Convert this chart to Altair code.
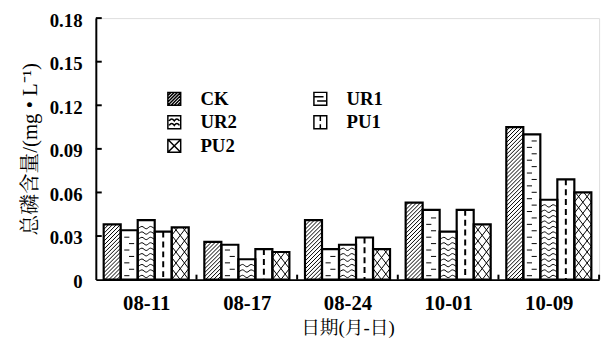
import altair as alt
import pandas as pd
import numpy as np

# ---------------- data ----------------
dates = ["08-11", "08-17", "08-24", "10-01", "10-09"]
series = ["CK", "UR1", "UR2", "PU1", "PU2"]
ck = [0.038, 0.026, 0.041, 0.053, 0.105]
ur1 = [0.034, 0.024, 0.021, 0.048, 0.100]
ur2 = [0.041, 0.014, 0.024, 0.033, 0.055]
pu1 = [0.033, 0.021, 0.029, 0.048, 0.069]
pu2 = [0.036, 0.019, 0.021, 0.038, 0.060]
y_ticks = [0, 0.03, 0.06, 0.09, 0.12, 0.15, 0.18]
values = {"CK": ck, "UR1": ur1, "UR2": ur2, "PU1": pu1, "PU2": pu2}
legend_order = ["CK", "UR2", "PU2", "UR1", "PU1"]  # column-major: CK UR1 / UR2 PU1 / PU2

# ---------------- layout ----------------
W, H = 510, 265
YMAX = 0.18
NG = len(dates)
START, BW = 0.078, 0.169
UX = W / NG        # px per x unit
UY = H / YMAX      # px per y unit
FONT = "Liberation Serif, Times New Roman, serif"
CJK = "Liberation Serif, Noto Serif CJK SC, Noto Sans CJK SC, serif"

bars = []
for i, d in enumerate(dates):
    for j, s in enumerate(series):
        x0 = i + START + j * BW
        bars.append({"date": d, "series": s, "x": x0, "x2": x0 + BW, "y": values[s][i], "y2": 0.0})
bars_df = pd.DataFrame(bars)

# pattern segments (computed from bar geometry)
segs, waves, dashes = [], [], []


def add_seg(b, X1, Y1, X2, Y2):
    segs.append({"x": b["x"] + X1 / UX, "x2": b["x"] + X2 / UX,
                 "y": Y1 / UY, "y2": Y2 / UY})


def family(b, w, h, a, c):
    # line Y = a*X + c clipped to [0,w]x[0,h]
    lo = max(0.0, min(-c / a, (h - c) / a))
    hi = min(w, max(-c / a, (h - c) / a))
    if hi - lo > 0.2:
        add_seg(b, lo, a * lo + c, hi, a * hi + c)


wid = 0
for b in bars:
    w = BW * UX
    h = b["y"] * UY
    s = b["series"]
    if s == "CK":
        sp = 4.0
        c = -w
        while c < h:
            family(b, w, h, 1.0, c)
            c += sp
    elif s == "PU2":
        a = 1.3
        p = a * w / 2
        k = -3
        while k * p < h + a * w + p:
            family(b, w, h, a, k * p)
            family(b, w, h, -a, k * p)
            k += 1
    elif s == "UR1":
        k = 0
        Y = 4.0
        while Y < h - 2:
            cx = 0.36 * w if k % 2 == 0 else 0.64 * w
            add_seg(b, cx - 2.6, Y, cx + 2.6, Y)
            Y += 6.5
            k += 1
    elif s == "UR2":
        Y = 2.0
        amp = 2.4
        while Y + amp < h - 1:
            pts = [(0, 0), (w / 4, amp), (w / 2, 0), (3 * w / 4, amp), (w, 0)]
            for n, (px, py) in enumerate(pts):
                waves.append({"id": wid, "o": n, "x": b["x"] + px / UX, "y": (Y + py) / UY})
            wid += 1
            Y += 5.5
    elif s == "PU1":
        dashes.append({"x": b["x"] + w / 2 / UX, "y": b["y"], "y2": 0.0})

segs_df = pd.DataFrame(segs)
waves_df = pd.DataFrame(waves)
dashes_df = pd.DataFrame(dashes)

ytick_df = pd.DataFrame({"y": y_ticks[1:], "x": 0.0, "x2": 6 / UX})
xtick_df = pd.DataFrame({"x": [float(k) for k in range(1, NG + 1)], "y": 0.0, "y2": 5 / UY})

xscale = alt.Scale(domain=[0, NG], nice=False, zero=False)
yscale = alt.Scale(domain=[0, YMAX], nice=False)
label_arr = "[" + ",".join("'%s'" % d for d in dates) + "]"
xaxis = alt.Axis(values=[k + 0.5 for k in range(NG)], labelExpr=label_arr + "[floor(datum.value)]",
                 ticks=False, grid=False, domainColor="black", domainWidth=2,
                 labelFont=FONT, labelFontWeight="bold", labelFontSize=21, labelColor="black",
                 labelPadding=13, title="日期(月-日)", titleFont=CJK, titleFontSize=19,
                 titleFontWeight="normal", titleColor="#000000", titlePadding=6)
yaxis = alt.Axis(values=y_ticks, labelExpr="datum.value == 0 ? '0' : format(datum.value, '.2f')",
                 ticks=False, grid=False, domainColor="black", domainWidth=2,
                 labelFont=FONT, labelFontWeight="bold", labelFontSize=19, labelColor="black",
                 labelPadding=14, labelOffset=2, title="总磷含量/(mg • L⁻¹)", titleFont=CJK,
                 titleFontSize=21, titleFontWeight="normal", titleColor="#000000", titlePadding=9)


def X(f="x"):
    return alt.X(f + ":Q", scale=xscale, axis=xaxis)


def Y(f="y"):
    return alt.Y(f + ":Q", scale=yscale, axis=yaxis)


fill_layer = alt.Chart(bars_df).mark_rect(fill="white").encode(x=X(), x2="x2", y=Y(), y2="y2")
seg_layer = alt.Chart(segs_df).mark_rule(color="black", strokeWidth=1).encode(x=X(), x2="x2", y=Y(), y2="y2")
wave_layer = alt.Chart(waves_df).mark_line(color="black", strokeWidth=1, interpolate="cardinal").encode(
    x=X(), y=Y(), detail="id:N", order="o:Q")
dash_layer = alt.Chart(dashes_df).mark_rule(color="black", strokeWidth=2, strokeDash=[6, 4]).encode(
    x=X(), y=Y(), y2="y2")
outline_layer = alt.Chart(bars_df).mark_rect(fillOpacity=0, stroke="black", strokeWidth=2.2).encode(
    x=X(), x2="x2", y=Y(), y2="y2")
ytick_layer = alt.Chart(ytick_df).mark_rule(color="black", strokeWidth=2).encode(x=X(), x2="x2", y=Y())
xtick_layer = alt.Chart(xtick_df).mark_rule(color="black", strokeWidth=2).encode(x=X(), y=Y(), y2="y2")

shape_paths = {
    "CK": "M-1,-1H1V1H-1Z M-1,-0.5L-0.5,-1 M-1,0L0,-1 M-1,0.5L0.5,-1 M-1,1L1,-1 M-0.5,1L1,-0.5 M0,1L1,0 M0.5,1L1,0.5",
    "UR1": "M-1,-1H1V1H-1Z M-1,-0.3H0.5 M-0.5,0.35H1",
    "UR2": "M-1,-1H1V1H-1Z M-0.8,-0.2Q-0.4,-0.8,0,-0.2Q0.4,-0.8,0.8,-0.2 M-0.8,0.5Q-0.4,-0.1,0,0.5Q0.4,-0.1,0.8,0.5",
    "PU1": "M-1,-1H1V1H-1Z M0,-1V-0.2 M0,0.3V1",
    "PU2": "M-1,-1H1V1H-1Z M-1,-1L1,1 M-1,1L1,-1",
}
leg_df = pd.DataFrame({"series": legend_order, "x": 0.5, "y": 0.0})
legend_layer = alt.Chart(leg_df).mark_point(opacity=0, filled=False).encode(
    x=X(), y=Y(),
    shape=alt.Shape("series:N", scale=alt.Scale(domain=legend_order,
                                                range=[shape_paths[s] for s in legend_order]),
                    legend=alt.Legend(title=None, orient="none", legendX=70, legendY=72, columns=2,
                                      symbolSize=169, symbolOpacity=1, symbolFillColor="white",
                                      symbolStrokeColor="black", symbolStrokeWidth=1.5,
                                      labelFont=FONT, labelFontWeight="bold", labelFontSize=19,
                                      labelColor="black", labelOffset=17, columnPadding=75,
                                      rowPadding=4, padding=0)))

chart = alt.layer(
    fill_layer, seg_layer, wave_layer, dash_layer, outline_layer, ytick_layer, xtick_layer, legend_layer
).properties(
    width=W, height=H, autosize="none",
    padding={"left": 89, "top": 8, "right": 8, "bottom": 64},
).configure_view(stroke=None).configure(background="white")

chart.save("out.html", embed_options={"renderer": "svg", "actions": False})
